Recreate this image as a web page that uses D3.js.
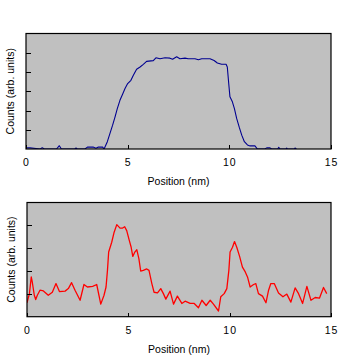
<!DOCTYPE html>
<html><head><meta charset="utf-8">
<script src="https://cdn.jsdelivr.net/npm/d3@7"></script>
<style>
html,body{margin:0;padding:0;background:#fff;}
svg{display:block;}
text{font-family:"Liberation Sans",Arial,sans-serif;font-size:10.5px;fill:#000;}
</style></head>
<body>
<svg id="c" width="340" height="360"></svg>
<script>
// Top profile (blue)
const topX = [0,0.2,0.69,0.8,0.9,1.5,1.64,1.74,2.4,2.46,2.52,2.9,3.02,3.3,3.44,3.56,3.77,3.84,4.0,4.13,4.26,4.38,4.49,4.62,4.75,4.87,5.0,5.16,5.28,5.44,5.61,5.77,5.93,6.26,6.39,6.59,6.84,7.08,7.21,7.41,7.57,7.82,7.98,8.31,8.48,8.64,9.05,9.25,9.41,9.62,9.84,9.9,9.97,10.03,10.15,10.25,10.36,10.49,10.61,10.74,10.89,11.02,11.26,11.38,11.75,11.84,12.0,12.08,12.38,12.43,12.49,12.78,12.82,12.86,13.2,13.23,13.3];
const topY = [0.06,0.06,0,0.06,0,0,0.17,0,0,0.05,0,0,0.1,0.1,0.04,0.1,0.1,0,0.38,0.81,1.24,1.67,2.1,2.53,2.84,3.14,3.4,3.57,3.83,4.14,4.26,4.4,4.55,4.59,4.74,4.69,4.74,4.72,4.66,4.79,4.69,4.72,4.69,4.69,4.64,4.69,4.69,4.6,4.47,4.4,4.4,4.26,3.4,2.71,2.45,2.1,1.59,1.12,0.72,0.38,0.21,0.16,0.16,0,0,0.06,0.06,0,0,0.09,0,0,0.05,0,0,0.05,0];
// Bottom profile (red)
const botX = [0,0.12,0.21,0.26,0.36,0.43,0.51,0.64,0.81,1.05,1.25,1.43,1.6,1.88,2.04,2.2,2.37,2.62,2.81,2.98,3.24,3.44,3.64,3.8,3.9,3.97,4.03,4.18,4.3,4.43,4.59,4.72,4.82,4.92,5.05,5.14,5.22,5.32,5.42,5.52,5.61,5.74,5.91,6.02,6.16,6.27,6.44,6.6,6.73,6.85,7.06,7.23,7.42,7.64,7.8,8.05,8.25,8.46,8.63,8.84,9.04,9.2,9.45,9.56,9.73,9.86,9.96,10.02,10.14,10.24,10.35,10.49,10.63,10.77,10.88,11.01,11.18,11.29,11.42,11.62,11.79,11.92,12.03,12.2,12.41,12.63,12.82,13.02,13.23,13.4,13.6,13.81,14.01,14.22,14.43,14.63,14.79];
const botY = [0.61,1.01,1.74,1.52,0.94,0.75,0.94,1.16,1.13,0.94,1.07,1.45,1.1,1.12,1.23,1.49,1.16,0.72,1.41,1.3,1.33,1.41,0.55,0.94,1.3,2.03,2.83,3.26,3.7,4.03,3.88,3.88,3.94,3.77,3.33,3.04,2.64,2.83,2.93,2.54,2.0,2.03,2.09,2.03,1.45,1.07,1.04,1.23,1.01,0.77,1.12,0.55,0.9,0.58,0.68,0.58,0.58,0.39,0.72,0.49,0.72,0.55,0.25,0.87,1.01,1.23,2.03,2.83,3.04,3.29,3.04,2.64,2.17,1.96,1.74,1.3,1.41,1.45,1.01,0.9,0.61,1.16,1.45,1.45,1.04,0.87,0.99,0.64,1.26,1.01,0.58,1.33,0.72,0.84,0.81,1.28,1.01];
const xTicks = [0,5,10,15];
const topYTicks = [1,2,3,4,5];
const botYTicks = [1,2,3,4];
const xTitle = "Position (nm)";
const yTitle = "Counts (arb. units)";

const svg = d3.select("#c");

function panel(cfg){
  const g = svg.append("g");
  const x = d3.scaleLinear().domain([0,15]).range([cfg.x0, cfg.x1]);
  const y = d3.scaleLinear().domain([0,cfg.ymax]).range([cfg.y1, cfg.y0]);
  const id = "clip"+cfg.name;
  svg.append("clipPath").attr("id",id).append("rect")
    .attr("x",cfg.x0).attr("y",cfg.y0).attr("width",cfg.x1-cfg.x0).attr("height",cfg.y1-cfg.y0);
  g.append("rect").attr("x",cfg.x0).attr("y",cfg.y0)
    .attr("width",cfg.x1-cfg.x0).attr("height",cfg.y1-cfg.y0).attr("fill","#c0c0c0");
  const pts = cfg.xs.map((v,i)=>[v,cfg.ys[i]]);
  g.append("path").attr("clip-path","url(#"+id+")")
    .attr("d", d3.line().x(d=>x(d[0])).y(d=>y(d[1]))(pts))
    .attr("fill","none").attr("stroke",cfg.color).attr("stroke-width",cfg.sw)
    .attr("stroke-linejoin","round");
  // axes
  const ax = g.append("g").attr("transform",`translate(0,${cfg.y1})`)
    .call(d3.axisBottom(x).tickValues(xTicks).tickSize(-4).tickPadding(10).tickFormat(d3.format("d")));
  ax.select(".domain").remove();
  ax.selectAll("line").attr("stroke","#000").attr("shape-rendering","crispEdges");
  ax.selectAll("text").attr("font-family",null).attr("font-size",null).style("letter-spacing","1px");
  const ay = g.append("g").attr("transform",`translate(${cfg.x0},0)`)
    .call(d3.axisLeft(y).tickValues(cfg.yticks).tickSize(-5).tickFormat(""));
  ay.select(".domain").remove();
  ay.selectAll("line").attr("stroke","#000").attr("shape-rendering","crispEdges");
  // frame
  g.append("rect").attr("x",cfg.x0).attr("y",cfg.y0)
    .attr("width",cfg.x1-cfg.x0).attr("height",cfg.y1-cfg.y0)
    .attr("fill","none").attr("stroke","#000").attr("stroke-width",1.2);
  g.append("text").attr("x",(cfg.x0+cfg.x1)/2).attr("y",cfg.y1+36)
    .attr("text-anchor","middle").text(xTitle);
  g.append("text").attr("transform",`translate(${cfg.x0-12},${(cfg.y0+cfg.y1)/2}) rotate(-90)`)
    .attr("text-anchor","middle").text(yTitle);
}

panel({name:"t",x0:26,x1:331,y0:33.5,y1:149,ymax:6,yticks:topYTicks,xs:topX,ys:topY,color:"#000090",sw:1.1});
panel({name:"b",x0:27,x1:331,y0:202.5,y1:316.7,ymax:5,yticks:botYTicks,xs:botX,ys:botY,color:"#ff0000",sw:1.3});
</script>
</body></html>
